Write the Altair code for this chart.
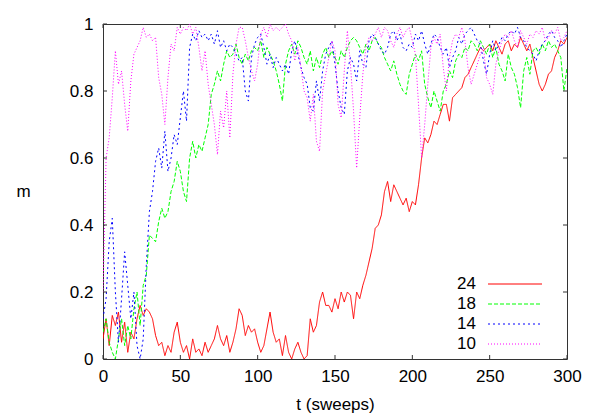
import altair as alt
import pandas as pd

t_values = list(range(0, 301, 2))

m_24 = [0.06, 0.12, 0.04, 0.13, 0.10, 0.14, 0.05, 0.11, 0.02, 0.08, 0.06, 0.12, 0.16, 0.13, 0.15, 0.14,
        0.12, 0.07, 0.04, 0.05, 0.01, 0.04, 0.02, 0.08, 0.11, 0.05, 0.02, 0.04, 0.00, 0.06, 0.02, 0.03,
        0.01, 0.05, 0.02, 0.04, 0.06, 0.10, 0.06, 0.04, 0.07, 0.02, 0.05, 0.09, 0.15, 0.13, 0.07, 0.10,
        0.08, 0.09, 0.05, 0.02, 0.04, 0.09, 0.14, 0.08, 0.05, 0.06, 0.01, 0.07, 0.02, 0.00, 0.03, 0.05,
        0.02, 0.00, 0.01, 0.12, 0.08, 0.10, 0.17, 0.20, 0.16, 0.16, 0.14, 0.18, 0.15, 0.20, 0.17, 0.20,
        0.19, 0.12, 0.20, 0.18, 0.22, 0.25, 0.29, 0.33, 0.39, 0.40, 0.43, 0.50, 0.53, 0.47, 0.52, 0.50,
        0.48, 0.46, 0.48, 0.44, 0.47, 0.46, 0.52, 0.60, 0.66, 0.645, 0.67, 0.71, 0.70, 0.73, 0.76, 0.76,
        0.71, 0.78, 0.79, 0.80, 0.81, 0.84, 0.85, 0.87, 0.89, 0.91, 0.93, 0.92, 0.93, 0.94, 0.92, 0.95,
        0.93, 0.91, 0.94, 0.95, 0.92, 0.94, 0.93, 0.96, 0.94, 0.92, 0.94, 0.90, 0.86, 0.82, 0.80, 0.82,
        0.85, 0.86, 0.90, 0.92, 0.95, 0.94, 0.96]

m_18 = [0.08, 0.12, 0.05, 0.02, 0.00, 0.06, 0.12, 0.04, 0.10, 0.06, 0.15, 0.20, 0.10, 0.22, 0.25, 0.37,
        0.36, 0.35, 0.41, 0.45, 0.42, 0.44, 0.50, 0.53, 0.59, 0.56, 0.50, 0.47, 0.60, 0.65, 0.60, 0.64,
        0.62, 0.66, 0.70, 0.79, 0.82, 0.86, 0.83, 0.88, 0.92, 0.90, 0.91, 0.94, 0.90, 0.88, 0.91, 0.89,
        0.92, 0.93, 0.92, 0.95, 0.90, 0.93, 0.91, 0.89, 0.86, 0.82, 0.77, 0.88, 0.92, 0.94, 0.91, 0.95,
        0.93, 0.90, 0.88, 0.92, 0.86, 0.90, 0.87, 0.91, 0.93, 0.90, 0.92, 0.90, 0.88, 0.92, 0.90, 0.93,
        0.95, 0.96, 0.95, 0.93, 0.91, 0.94, 0.92, 0.95, 0.96, 0.94, 0.93, 0.90, 0.88, 0.86, 0.89, 0.85,
        0.82, 0.80, 0.79, 0.85, 0.88, 0.91, 0.89, 0.92, 0.82, 0.78, 0.75, 0.80, 0.77, 0.74, 0.80, 0.82,
        0.86, 0.84, 0.89, 0.91, 0.90, 0.93, 0.92, 0.95, 0.94, 0.92, 0.95, 0.93, 0.91, 0.94, 0.90, 0.93,
        0.88, 0.86, 0.83, 0.91, 0.87, 0.85, 0.81, 0.75, 0.86, 0.90, 0.85, 0.92, 0.93, 0.91, 0.94, 0.92,
        0.95, 0.93, 0.94, 0.92, 0.90, 0.80, 0.87]

m_14 = [0.12, 0.18, 0.35, 0.42, 0.20, 0.05, 0.18, 0.32, 0.22, 0.12, 0.20, 0.04, 0.00, 0.06, 0.28, 0.44,
        0.50, 0.59, 0.63, 0.57, 0.68, 0.56, 0.60, 0.67, 0.64, 0.72, 0.80, 0.71, 0.93, 0.97, 0.95, 0.98,
        0.96, 0.97, 0.95, 0.97, 0.94, 0.98, 0.93, 0.95, 0.92, 0.94, 0.93, 0.91, 0.89, 0.90, 0.80, 0.77,
        0.90, 0.94, 0.96, 0.97, 0.93, 0.88, 0.91, 0.87, 0.90, 0.88, 0.86, 0.88, 0.85, 0.92, 0.95, 0.91,
        0.87, 0.84, 0.82, 0.75, 0.74, 0.83, 0.77, 0.86, 0.91, 0.93, 0.95, 0.88, 0.80, 0.75, 0.73, 0.86,
        0.90, 0.88, 0.83, 0.92, 0.88, 0.87, 0.95, 0.97, 0.96, 0.94, 0.92, 0.91, 0.93, 0.97, 0.98, 0.95,
        0.97, 0.93, 0.92, 0.94, 0.93, 0.97, 0.95, 0.98, 0.94, 0.91, 0.94, 0.97, 0.96, 0.93, 0.91, 0.93,
        0.87, 0.90, 0.92, 0.96, 0.94, 0.97, 0.98, 0.99, 0.97, 0.95, 0.94, 0.89, 0.85, 0.91, 0.95, 0.92,
        0.94, 0.96, 0.95, 0.97, 0.98, 0.97, 0.99, 0.96, 0.95, 0.93, 0.92, 0.91, 0.89, 0.92, 0.94, 0.95,
        0.97, 0.98, 0.96, 0.95, 0.93, 0.95, 0.97]

m_10 = [0.20, 0.60, 0.66, 0.78, 0.92, 0.82, 0.86, 0.76, 0.68, 0.83, 0.91, 0.93, 0.95, 0.99, 0.96, 0.97,
        0.95, 0.96, 0.84, 0.79, 0.70, 0.84, 0.94, 0.92, 0.99, 0.97, 0.99, 0.98, 1.00, 0.97, 0.99, 0.93,
        0.86, 0.92, 0.82, 0.76, 0.70, 0.61, 0.74, 0.69, 0.80, 0.66, 0.85, 0.94, 0.99, 0.99, 0.95, 0.90,
        0.86, 0.83, 0.88, 0.97, 0.99, 0.96, 1.00, 0.98, 0.99, 0.98, 0.99, 1.00, 0.97, 0.95, 0.89, 0.93,
        0.87, 0.80, 0.78, 0.71, 0.79, 0.65, 0.62, 0.80, 0.85, 0.90, 0.95, 0.92, 0.76, 0.72, 0.86, 0.98,
        0.88, 0.74, 0.57, 0.72, 0.85, 0.93, 0.96, 0.95, 0.97, 0.99, 0.96, 0.99, 0.98, 0.95, 0.93, 0.97,
        0.99, 0.96, 0.98, 0.99, 0.95, 0.91, 0.76, 0.60, 0.70, 0.82, 0.93, 0.96, 0.94, 0.97, 0.87, 0.80,
        0.90, 0.95, 0.97, 0.96, 0.99, 0.95, 0.87, 0.82, 0.85, 0.88, 0.91, 0.93, 0.84, 0.82, 0.79, 0.88,
        0.92, 0.95, 0.97, 0.96, 0.98, 0.95, 0.93, 0.98, 0.96, 0.94, 0.97, 0.96, 0.98, 0.97, 0.99, 0.95,
        0.96, 0.98, 0.97, 0.99, 0.95, 0.96, 0.98]

series_names = ["24", "18", "14", "10"]
series_colors = ["#ff0000", "#00ff00", "#0000ff", "#ff00ff"]
series_dashes = [[1, 0], [4, 2], [2, 3], [1, 2]]
x_ticks = [0, 50, 100, 150, 200, 250, 300]
y_ticks = [0, 0.2, 0.4, 0.6, 0.8, 1]

FONT = "Liberation Sans"
W, H = 464, 335

rows = []
for name, vals in zip(series_names, [m_24, m_18, m_14, m_10]):
    for t, m in zip(t_values, vals):
        rows.append({"t": t, "m": m, "series": name})
df = pd.DataFrame(rows)

xs = alt.Scale(domain=[0, 300], nice=False)
ys = alt.Scale(domain=[0, 1], nice=False)

x_axis = alt.Axis(values=x_ticks, ticks=False, domain=False, grid=False, labelFont=FONT,
                  labelFontSize=17, labelColor="black", labelPadding=9, labelFlush=False,
                  title="t (sweeps)", titleFont=FONT, titleFontSize=17, titleFontWeight="normal",
                  titleColor="black", titlePadding=12)
y_axis = alt.Axis(values=y_ticks, format="~g", ticks=False, domain=False, grid=False, labelFont=FONT,
                  labelFontSize=17, labelColor="black", labelPadding=10, labelFlush=False,
                  title="m", titleFont=FONT, titleFontSize=17, titleFontWeight="normal",
                  titleColor="black", titleAngle=0, titleX=-80, titleY=H / 2,
                  titleAlign="center", titleBaseline="middle")

X = alt.X("t:Q", scale=xs, axis=x_axis)
Y = alt.Y("m:Q", scale=ys, axis=y_axis)

layers = []
for name, color, dash in zip(series_names, series_colors, series_dashes):
    layers.append(
        alt.Chart(df).transform_filter(alt.datum.series == name)
        .mark_line(color=color, strokeWidth=1, strokeDash=dash, clip=True)
        .encode(x=X, y=Y)
    )

xt = pd.DataFrame({"t": x_ticks})
yt = pd.DataFrame({"m": y_ticks})
tick_color = "#333333"
layers.append(alt.Chart(xt).mark_rule(color=tick_color, strokeWidth=1)
              .encode(x=X, y=alt.value(H), y2=alt.value(H - 4)))
layers.append(alt.Chart(xt).mark_rule(color=tick_color, strokeWidth=1)
              .encode(x=X, y=alt.value(0), y2=alt.value(4)))
layers.append(alt.Chart(yt).mark_rule(color=tick_color, strokeWidth=1)
              .encode(y=Y, x=alt.value(0), x2=alt.value(4)))
layers.append(alt.Chart(yt).mark_rule(color=tick_color, strokeWidth=1)
              .encode(y=Y, x=alt.value(W), x2=alt.value(W - 4)))

# legend (gnuplot style: label right-aligned, sample line to the right)
leg_df = pd.DataFrame({"series": series_names})
for i, (name, color, dash) in enumerate(zip(series_names, series_colors, series_dashes)):
    yy = 260 + 20 * i
    layers.append(alt.Chart(leg_df).transform_filter(alt.datum.series == name)
                  .mark_text(align="right", baseline="middle", font=FONT, fontSize=17, color="black")
                  .encode(text="series:N", x=alt.value(373), y=alt.value(yy)))
    layers.append(alt.Chart(leg_df).transform_filter(alt.datum.series == name)
                  .mark_rule(color=color, strokeWidth=1, strokeDash=dash)
                  .encode(x=alt.value(385), x2=alt.value(439), y=alt.value(yy)))

chart = alt.layer(*layers).properties(
    width=W, height=H, autosize="none",
    padding={"left": 95, "top": 16, "right": 25, "bottom": 60},
).configure_view(stroke="#333333", strokeWidth=1)

chart.save("out.html", embed_options={"renderer": "svg", "actions": False})
